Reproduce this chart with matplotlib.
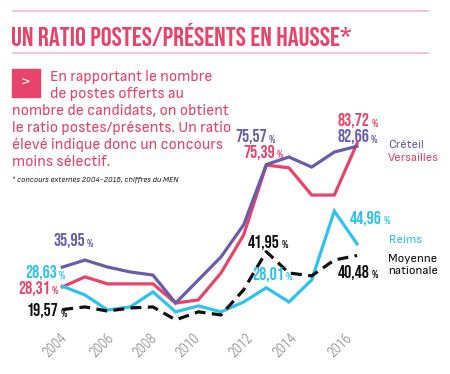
import matplotlib
matplotlib.use("Agg")
import matplotlib.pyplot as plt
import numpy as np
from matplotlib.patches import Rectangle

# ---------------- data ----------------
n_points = 14
creteil = [35.95, 38.7, 36.0, 34.1, 32.9, 22.1, 31.0, 39.9, 52.3, 75.57, 78.5, 74.6, 80.4, 82.66]
versailles = [28.31, 32.2, 29.5, 29.5, 29.5, 22.1, 23.3, 33.7, 48.4, 75.39, 74.3, 63.8, 63.8, 83.72]
reims = [28.63, 25.2, 19.4, 20.6, 26.4, 18.7, 21.0, 18.7, 22.5, 28.01, 22.5, 31.0, 57.6, 44.96]
moyenne = [19.57, 20.6, 19.0, 20.2, 20.6, 15.6, 18.7, 17.5, 27.2, 41.95, 33.7, 32.6, 38.7, 40.48]
tick_labels = ["2004", "2006", "2008", "2010", "2012", "2014", "2016"]
tick_pos = [-0.1, 1.95, 3.85, 5.75, 8.1, 10.05, 12.45]
series_names = ["Créteil", "Versailles", "Reims", "Moyenne\nnationale"]

PURPLE = "#6a5bab"
PINK = "#e8436a"
CYAN = "#2ec3ea"
BLACK = "#111111"
GRAY = "#7f7f7f"

TITLE = ["Bebas Neue", "DejaVu Sans"]
NUM = ["Bebas Neue", "DejaVu Sans"]
TICK = ["Roboto Condensed", "DejaVu Sans"]
BODY = ["Sofia Sans", "DejaVu Sans"]

W, H = 450, 374
fig = plt.figure(figsize=(W / 100, H / 100), dpi=100)
fig.patch.set_facecolor("white")

def fx(px):
    return px / W

def fy(py):
    return 1 - py / H

# axes: x index 0..13 spans px 60..357 ; y 12..90 spans px 329.2..127.2
ax = fig.add_axes([fx(60), fy(329.2), fx(357 - 60), (329.2 - 127.2) / H])
ax.set_xlim(0, n_points - 1)
ax.set_ylim(12, 90)
for s in ax.spines.values():
    s.set_visible(False)
ax.set_yticks([])
ax.set_facecolor("none")

x = np.arange(n_points)
lw = 2.3
ax.plot(x, versailles, color=PINK, lw=lw, clip_on=False, solid_joinstyle="miter")
ax.plot(x, creteil, color=PURPLE, lw=lw, clip_on=False, solid_joinstyle="miter")
ax.plot(x, reims, color=CYAN, lw=lw, clip_on=False, solid_joinstyle="miter")
ax.plot(x, moyenne, color=BLACK, lw=lw, ls=(0, (3.4, 2.0)), clip_on=False)

ax.set_xticks(tick_pos)
ax.set_xticklabels(tick_labels, rotation=45, ha="right", va="top",
                   rotation_mode="anchor", color=GRAY, fontsize=10,
                   family=TICK, fontweight="light")
ax.tick_params(axis="x", length=0, pad=1)

# ---------------- header ----------------
fig.add_artist(plt.Line2D([fx(13), fx(428)], [fy(10.5), fy(10.5)], color="#f6b9c8", lw=1.2))
fig.add_artist(plt.Line2D([fx(13), fx(428)], [fy(52.5), fy(52.5)], color="#f6b9c8", lw=1.2))
fig.text(fx(11), fy(34), "UN RATIO POSTES/PRÉSENTS EN HAUSSE*", color=PINK,
         fontsize=19.6, family=TITLE, va="center", ha="left")

fig.add_artist(Rectangle((fx(12), fy(97)), fx(28), 28 / H, color=PINK, transform=fig.transFigure))
fig.text(fx(26), fy(82.5), ">", color="white", fontsize=12, fontweight="bold",
         ha="center", va="center", family=BODY)

para = [(50, 77, "En rapportant le nombre"),
        (50, 94, "de postes offerts au"),
        (12, 111, "nombre de candidats, on obtient"),
        (12, 128, "le ratio postes/présents. Un ratio"),
        (12, 145, "élevé indique donc un concours"),
        (12, 162, "moins sélectif.")]
for px, py, t in para:
    fig.text(fx(px), fy(py), t, color=PINK, fontsize=11.2, family=BODY,
             fontweight="medium", va="center", ha="left")
fig.text(fx(12), fy(180), "* concours externes 2004-2016, chiffres du MEN",
         color="#222222", fontsize=5.8, style="italic", family=BODY, va="center")

# ---------------- value labels ----------------
def fmt(v):
    return f"{v:.2f}".replace(".", ",")

def value_label(v, px_left, py_center, color):
    t = fig.text(fx(px_left), fy(py_center), fmt(v), color=color, fontsize=12.8,
                 family=NUM, va="center", ha="left")
    ax.annotate("%", xy=(1, 0.12), xycoords=t, xytext=(1.2, 0), textcoords="offset points",
                color=color, fontsize=8, family=NUM,
                va="bottom", ha="left", annotation_clip=False)

value_label(creteil[0], 53, 241, PURPLE)
value_label(reims[0], 25, 273, CYAN)
value_label(versailles[0], 18, 288.5, PINK)
value_label(moyenne[0], 27, 311, BLACK)
value_label(creteil[9], 235, 137, PURPLE)
value_label(versailles[9], 243, 152, PINK)
value_label(versailles[13], 338, 121, PINK)
value_label(creteil[13], 337, 137, PURPLE)
value_label(reims[13], 350, 218, CYAN)
value_label(moyenne[9], 248, 242, BLACK)
value_label(reims[9], 252, 274, CYAN)
value_label(moyenne[13], 338, 272, BLACK)

# ---------------- series names ----------------
fig.text(fx(388), fy(145), series_names[0], color=PURPLE, fontsize=9, family=BODY, va="center")
fig.text(fx(388), fy(158), series_names[1], color=PINK, fontsize=9, family=BODY, va="center")
fig.text(fx(389), fy(240), series_names[2], color=CYAN, fontsize=9, family=BODY, va="center")
fig.text(fx(388), fy(265.5), series_names[3], color=BLACK, fontsize=9, family=BODY,
         va="center", linespacing=1.25)

fig.savefig("out.png", dpi=100, facecolor="white")
